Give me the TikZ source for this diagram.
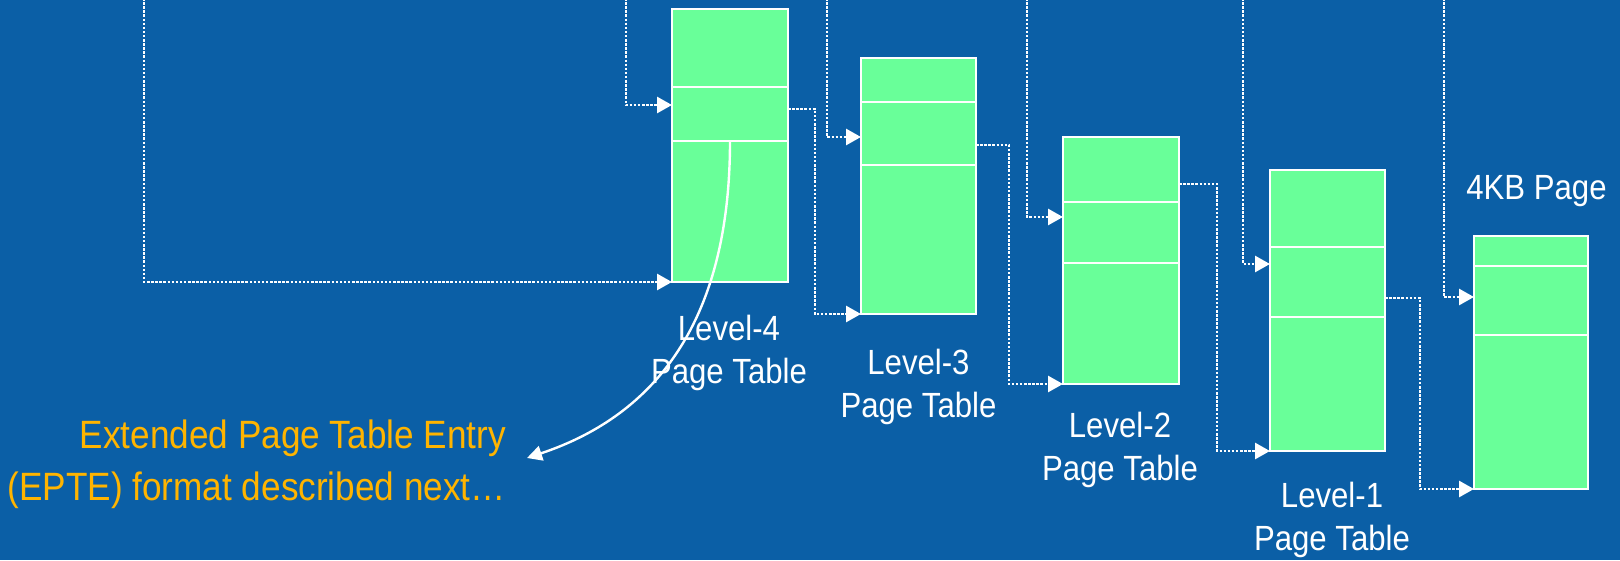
\documentclass[tikz,border=0pt]{standalone}
\usepackage{fontspec}
\setmainfont[FakeStretch=0.89]{Liberation Sans}
\usetikzlibrary{calc,arrows.meta}

\definecolor{slidebg}{HTML}{0B5FA6}
\definecolor{entrygreen}{HTML}{69FF99}
\definecolor{noteyellow}{HTML}{FFB400}

\tikzset{
  ptable/.style={draw=white, line width=2.5pt, fill=entrygreen, inner sep=0pt, outer sep=0pt},
  divider/.style={draw=white, line width=2.5pt},
  link/.style={draw=white, line width=2.8pt, dash pattern=on 2.5pt off 1.6pt,
               -{Triangle[length=15pt,width=16pt]}},
  pointer/.style={draw=white, line width=2.4pt, -{Triangle[length=15pt,width=15pt]}},
  lbl/.style={text=white, align=center, inner sep=0pt, anchor=north,
              font=\fontsize{35}{43}\selectfont},
  note/.style={text=noteyellow, align=right, inner sep=0pt, anchor=north east,
               font=\fontsize{39.5}{52}\selectfont}
}

\begin{document}
\begin{tikzpicture}[x=1pt,y=1pt]
  \useasboundingbox (0,0) rectangle (1620,-560);
  \fill[slidebg] (0,0) rectangle (1620,-560);

  % the four page tables and the final page
  \node[ptable, minimum width=116pt, minimum height=273pt] (t4) at (730,-145.5) {};
  \node[ptable, minimum width=115pt, minimum height=256pt] (t3) at (918.5,-186) {};
  \node[ptable, minimum width=116pt, minimum height=247pt] (t2) at (1121,-260.5) {};
  \node[ptable, minimum width=115pt, minimum height=281pt] (t1) at (1327.5,-310.5) {};
  \node[ptable, minimum width=114pt, minimum height=253pt] (pg) at (1531,-362.5) {};

  % rows of the selected entry
  \foreach \t/\a/\b in {t4/78/132, t3/44/107, t2/65/126, t1/77/147, pg/30/99}
    \draw[divider] ([yshift=-\a pt]\t.north west) -- ([yshift=-\a pt]\t.north east)
                   ([yshift=-\b pt]\t.north west) -- ([yshift=-\b pt]\t.north east);

  % address bits coming in from above
  \coordinate (va) at (144,2);
  \coordinate (v4) at (626,2);
  \coordinate (v3) at (827,2);
  \coordinate (v2) at (1027,2);
  \coordinate (v1) at (1243,2);
  \coordinate (vp) at (1444,2);

  \draw[link] (va) |- (t4.south west);
  \draw[link] (v4) |- ([yshift=-96pt]t4.north west);
  \draw[link] ([yshift=-100pt]t4.north east) -- ++(27,0) |- (t3.south west);
  \draw[link] (v3) |- ([yshift=-79pt]t3.north west);
  \draw[link] ([yshift=-87pt]t3.north east) -- ++(33,0) |- (t2.south west);
  \draw[link] (v2) |- ([yshift=-80pt]t2.north west);
  \draw[link] ([yshift=-47pt]t2.north east) -- ++(38,0) |- (t1.south west);
  \draw[link] (v1) |- ([yshift=-94pt]t1.north west);
  \draw[link] ([yshift=-128pt]t1.north east) -- ++(35,0) |- (pg.south west);
  \draw[link] (vp) |- ([yshift=-61pt]pg.north west);

  % labels
  \node[lbl] (l4) at (729,-315) {Level-4\\Page Table};
  \node[lbl] (l3) at (918.5,-349) {Level-3\\Page Table};
  \node[lbl] (l2) at (1120,-411.7) {Level-2\\Page Table};
  \node[lbl] (l1) at (1332,-481.5) {Level-1\\Page Table};
  \node[lbl] (lp) at (1536.5,-175) {4KB Page};

  \node[note] (ept) at (506,-420) {Extended Page Table Entry\\(EPTE) format described next…};
  \coordinate (eptarrow) at (527,-458);
  \draw[pointer] ([yshift=-132pt]t4.north) .. controls +(0,-190) and +(120,40) .. (eptarrow);
\end{tikzpicture}
\end{document}
